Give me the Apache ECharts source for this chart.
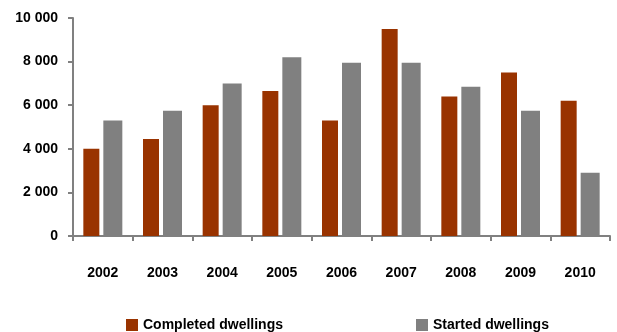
<!DOCTYPE html>
<html>
<head>
<meta charset="utf-8">
<script src="https://cdn.jsdelivr.net/npm/echarts@6/dist/echarts.min.js"></script>
<style>
  html, body { margin: 0; padding: 0; background: #fff; }
  #chart { width: 617px; height: 332px; }
</style>
</head>
<body>
<div id="chart"></div>
<script>
var years = ['2002', '2003', '2004', '2005', '2006', '2007', '2008', '2009', '2010'];
var completed = [4000, 4450, 6000, 6650, 5300, 9500, 6400, 7500, 6200];
var started = [5300, 5750, 7000, 8200, 7950, 7950, 6850, 5750, 2900];

var chart = echarts.init(document.getElementById('chart'));

// thousands with a space, like "10 000"
function fmt(v) {
	return String(v).replace(/\B(?=(\d{3})+(?!\d))/g, ' ');
}

var font = { fontFamily: 'Liberation Sans', fontWeight: 'bold', fontSize: 14, color: '#000' };

chart.setOption({
	animation: false,
	grid: { left: 73, right: 7, top: 18, bottom: 96 },
	legend: {
		left: 121,
		top: 313,
		itemWidth: 12,
		itemHeight: 12,
		itemGap: 133,
		icon: 'rect',
		textStyle: font,
		data: ['Completed dwellings', 'Started dwellings']
	},
	xAxis: {
		type: 'category',
		data: years,
		axisLine: { lineStyle: { color: '#808080', width: 2 } },
		axisTick: { show: true, length: 5, lineStyle: { color: '#808080', width: 2 } },
		axisLabel: Object.assign({ margin: 30 }, font)
	},
	yAxis: {
		type: 'value',
		min: 0,
		max: 10000,
		interval: 2000,
		splitLine: { show: false },
		axisLine: { show: true, lineStyle: { color: '#808080', width: 2 } },
		axisTick: { show: true, length: 5, lineStyle: { color: '#808080', width: 2 } },
		axisLabel: Object.assign({ margin: 15, formatter: fmt }, font)
	},
	series: [
		{
			name: 'Completed dwellings',
			type: 'bar',
			data: completed,
			barWidth: 16,
			barGap: '25%',
			itemStyle: { color: '#993300' }
		},
		{
			name: 'Started dwellings',
			type: 'bar',
			data: started,
			barWidth: 19,
			itemStyle: { color: '#808080' }
		}
	]
});
</script>
</body>
</html>
